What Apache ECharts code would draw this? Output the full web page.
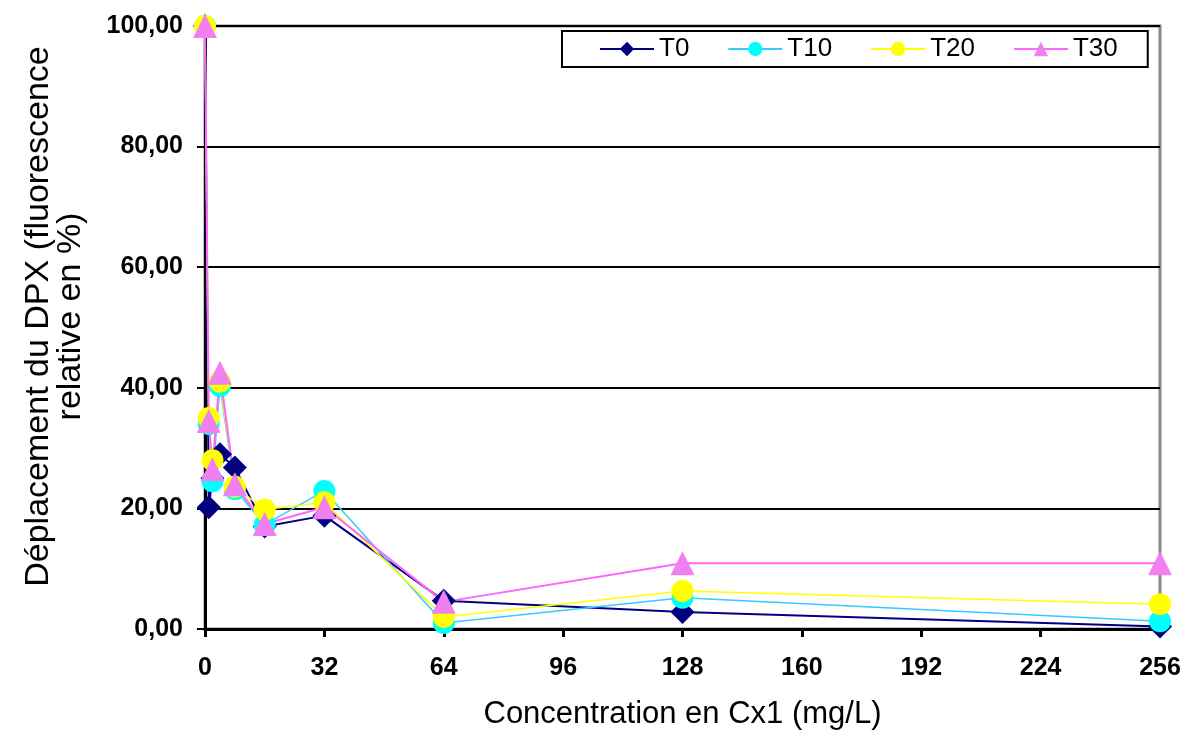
<!DOCTYPE html>
<html>
<head>
<meta charset="utf-8">
<script src="https://cdn.jsdelivr.net/npm/echarts@6/dist/echarts.min.js"></script>
<style>html,body{margin:0;padding:0;background:#fff}#c{width:1186px;height:735px}</style>
</head>
<body>
<div id="c"></div>
<script>
const concentrations = [0, 1, 2, 4, 8, 16, 32, 64, 128, 256];
const T0  = [100, 20.2, 25.0, 29.0, 26.8, 17.0, 18.8, 4.7, 2.8, 0.4];
const T10 = [100, 34.0, 24.5, 40.3, 23.2, 17.3, 22.9, 1.0, 5.2, 1.3];
const T20 = [100, 35.0, 28.0, 41.0, 23.6, 19.8, 21.0, 2.0, 6.3, 4.1];
const T30 = [100, 34.5, 26.5, 42.5, 24.0, 17.4, 20.2, 4.5, 10.9, 10.9];
const xTicks = [0, 32, 64, 96, 128, 160, 192, 224, 256];

function pairs(ys){ return concentrations.map((x,i)=>[x, ys[i]]); }

const chart = echarts.init(document.getElementById('c'), null, {renderer:'canvas'});
const font = 'Liberation Sans, Arial, sans-serif';
chart.setOption({
  animation:false,
  backgroundColor:'#fff',
  textStyle:{fontFamily:font},
  grid:{left:205, right:26, top:26, bottom:103, show:true, borderColor:'#888', borderWidth:3, containLabel:false},
  legend:{
    left:562, top:31, padding:[5,30,5,37],
    borderColor:'#000', borderWidth:2, backgroundColor:'#fff',
    itemWidth:54, itemHeight:18, itemGap:38,
    textStyle:{fontSize:26, color:'#000', fontFamily:font},
    data:['T0','T10','T20','T30']
  },
  xAxis:{
    type:'value', min:0, max:256, interval:32,
    axisLine:{onZero:false, lineStyle:{color:'#000', width:3}},
    axisTick:{show:true, length:8, inside:false, lineStyle:{color:'#000', width:3}},
    axisLabel:{margin:27, fontSize:25, fontWeight:'bold', color:'#000', fontFamily:font},
    splitLine:{show:false},
    name:'Concentration en Cx1 (mg/L)', nameLocation:'middle', nameGap:70,
    nameTextStyle:{fontSize:31, color:'#000', fontFamily:font}
  },
  yAxis:{
    type:'value', min:0, max:100, interval:20,
    axisLine:{show:true, lineStyle:{color:'#000', width:3}},
    axisTick:{show:true, length:8, lineStyle:{color:'#000', width:2}},
    axisLabel:{margin:22, fontSize:25, fontWeight:'bold', color:'#000', fontFamily:font,
      formatter:v=>v.toFixed(2).replace('.', ',')},
    splitLine:{show:true, lineStyle:{color:'#000', width:2}},
    name:'Déplacement du DPX (fluorescence\nrelative en %)', nameLocation:'middle', nameGap:118,
    nameTextStyle:{fontSize:34, color:'#000', fontFamily:font, lineHeight:32, padding:[0,0,0,22]}
  },
  series:[
    {name:'T0', type:'line', data:pairs(T0), symbol:'diamond', symbolSize:24,
     lineStyle:{color:'#000080', width:2}, itemStyle:{color:'#000080'}},
    {name:'T10', type:'line', data:pairs(T10), symbol:'circle', symbolSize:22,
     lineStyle:{color:'#33ccff', width:1.5}, itemStyle:{color:'#00ffff'}},
    {name:'T20', type:'line', data:pairs(T20), symbol:'circle', symbolSize:22,
     lineStyle:{color:'#ffff00', width:1.5}, itemStyle:{color:'#ffff00'}},
    {name:'T30', type:'line', data:pairs(T30), symbol:'triangle', symbolSize:24,
     lineStyle:{color:'#ff66ff', width:2}, itemStyle:{color:'#f080f0'}}
  ]
});
</script>
</body>
</html>
